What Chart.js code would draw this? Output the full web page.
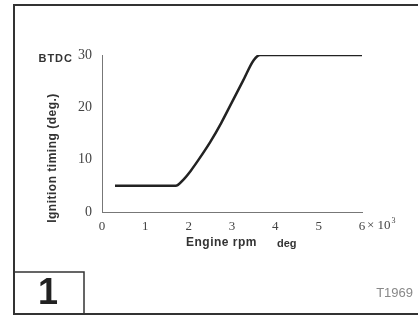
<!DOCTYPE html>
<html>
<head>
<meta charset="utf-8">
<script src="https://cdn.jsdelivr.net/npm/chart.js@4/dist/chart.umd.min.js"></script>
<style>
  html, body { margin: 0; padding: 0; background: #fff; }
  canvas { display: block; }
</style>
</head>
<body>
<canvas id="timing-chart" width="418" height="317"></canvas>
<script>
// engine speed (x 1000 rpm) and ignition advance (deg BTDC)
const rpm = [0.3, 1.7, 1.88, 2.05, 2.23, 2.5, 2.75, 3.0, 3.25, 3.5, 3.65, 6.0];
const advance = [5, 5, 6.2, 7.9, 10, 13.4, 17, 21, 25, 29, 30, 30];

const xTicks = [0, 1, 2, 3, 4, 5, 6];
const yTicks = [0, 10, 20, 30];

const serif = "'Liberation Serif', 'DejaVu Serif', serif";
const sans = "'Liberation Sans', Arial, sans-serif";

const points = rpm.map((r, i) => ({ x: r, y: advance[i] }));

const decor = {
  id: "decor",
  beforeDraw(chart) {
    const ctx = chart.ctx;
    ctx.save();
    ctx.fillStyle = "#fff";
    ctx.fillRect(0, 0, chart.width, chart.height);
    ctx.restore();
  },
  afterDraw(chart) {
    const ctx = chart.ctx;
    const area = chart.chartArea;
    const x = chart.scales.x;
    const y = chart.scales.y;
    ctx.save();

    // outer frame
    ctx.strokeStyle = "#333";
    ctx.lineWidth = 2;
    ctx.strokeRect(14, 5, 420, 309);

    // figure number box
    ctx.lineWidth = 1.5;
    ctx.strokeRect(14, 272, 70, 42);
    ctx.fillStyle = "#222";
    ctx.font = "bold 36px " + sans;
    ctx.textAlign = "center";
    ctx.textBaseline = "middle";
    ctx.fillText("1", 48, 294);

    // reference code
    ctx.fillStyle = "#888";
    ctx.font = "13px " + sans;
    ctx.textAlign = "right";
    ctx.fillText("T1969", 413, 293);

    // BTDC marker beside the top tick
    ctx.fillStyle = "#333";
    ctx.font = "bold 11px " + sans;
    ctx.letterSpacing = "1px";
    ctx.textAlign = "right";
    ctx.fillText("BTDC", 73, y.getPixelForValue(30) + 4);

    // x 10^3 after the last tick
    const px6 = x.getPixelForValue(6);
    ctx.letterSpacing = "0px";
    ctx.fillStyle = "#444";
    ctx.textAlign = "left";
    ctx.font = "13px " + serif;
    const mult = "× 10";
    ctx.fillText(mult, px6 + 5, area.bottom + 14);
    const w = ctx.measureText(mult).width;
    ctx.font = "8px " + serif;
    ctx.fillText("3", px6 + 6 + w, area.bottom + 9);

    // axis titles
    ctx.fillStyle = "#333";
    ctx.font = "bold 12px " + sans;
    ctx.letterSpacing = "0.5px";
    ctx.textAlign = "left";
    ctx.fillText("Engine rpm", 186, 243);
    ctx.font = "bold 11px " + sans;
    ctx.letterSpacing = "0px";
    ctx.fillText("deg", 277, 244);

    ctx.translate(53, 158);
    ctx.rotate(-Math.PI / 2);
    ctx.textAlign = "center";
    ctx.font = "bold 12px " + sans;
    ctx.letterSpacing = "0.5px";
    ctx.fillText("Ignition timing (deg.)", 0, 0);

    ctx.restore();
  },
};

const chart = new Chart(document.getElementById("timing-chart"), {
  type: "line",
  data: {
    datasets: [
      {
        data: points,
        borderColor: "#222",
        borderWidth: 2.5,
        pointRadius: 0,
        cubicInterpolationMode: "monotone",
        fill: false,
      },
    ],
  },
  options: {
    responsive: false,
    devicePixelRatio: 1,
    animation: false,
    layout: { padding: { left: 0, top: 55, right: 56, bottom: 65 } },
    plugins: { legend: { display: false }, tooltip: { enabled: false } },
    scales: {
      x: {
        type: "linear",
        min: 0,
        max: 6,
        afterBuildTicks(scale) {
          scale.ticks = xTicks.map((v) => ({ value: v }));
        },
        afterFit(scale) {
          scale.height = 40;
        },
        grid: { display: false, drawTicks: false },
        border: { display: true, color: "#777", width: 1 },
        ticks: {
          autoSkip: false,
          maxRotation: 0,
          padding: 7,
          color: "#444",
          font: { family: serif, size: 13 },
        },
      },
      y: {
        min: 0,
        max: 30,
        afterBuildTicks(scale) {
          scale.ticks = yTicks.map((v) => ({ value: v }));
        },
        afterFit(scale) {
          scale.width = 102;
        },
        grid: { display: false, drawTicks: false },
        border: { display: true, color: "#777", width: 1 },
        ticks: {
          padding: 10,
          color: "#444",
          font: { family: serif, size: 14 },
        },
      },
    },
  },
  plugins: [decor],
});
</script>
</body>
</html>
